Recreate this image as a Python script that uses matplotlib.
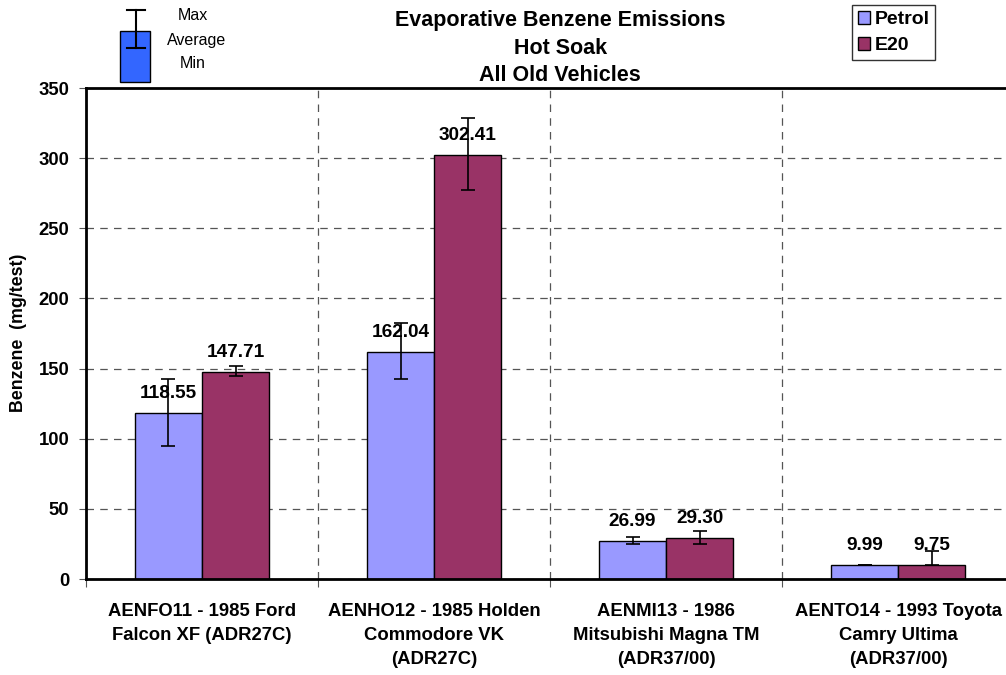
import numpy as np
import matplotlib.pyplot as plt
from matplotlib.patches import Rectangle

plt.rcParams['font.family'] = ['Liberation Sans', 'DejaVu Sans']

# data
vehicles = ['AENFO11 - 1985 Ford\nFalcon XF (ADR27C)',
            'AENHO12 - 1985 Holden\nCommodore VK\n(ADR27C)',
            'AENMI13 - 1986\nMitsubishi Magna TM\n(ADR37/00)',
            'AENTO14 - 1993 Toyota\nCamry Ultima\n(ADR37/00)']
petrol_avg = [118.55, 162.04, 26.99, 9.99]
petrol_max = [142.5, 182.5, 29.9, 10.2]
petrol_min = [94.8, 142.5, 24.9, 9.8]
e20_avg = [147.71, 302.41, 29.30, 9.75]
e20_max = [151.8, 328.6, 34.2, 20.0]
e20_min = [144.7, 277.3, 24.9, 9.75]

petrol_color = '#9999FF'
e20_color = '#993366'

fig = plt.figure(figsize=(10.06, 6.75), dpi=100)
ax = fig.add_axes([0.0855, 0.1422, 0.9225, 0.7274])

x = np.arange(len(vehicles))
w = 0.289
xp = x - w / 2
xe = x + w / 2

ax.bar(xp, petrol_avg, w, color=petrol_color, edgecolor='black', linewidth=1, label='Petrol', zorder=3)
ax.bar(xe, e20_avg, w, color=e20_color, edgecolor='black', linewidth=1, label='E20', zorder=3)

pa = np.array(petrol_avg)
ea = np.array(e20_avg)
ax.errorbar(xp, pa, yerr=[pa - np.array(petrol_min), np.array(petrol_max) - pa],
            fmt='none', ecolor='black', elinewidth=1.2, capsize=5, capthick=1.2, zorder=4)
ax.errorbar(xe, ea, yerr=[ea - np.array(e20_min), np.array(e20_max) - ea],
            fmt='none', ecolor='black', elinewidth=1.2, capsize=5, capthick=1.2, zorder=4)

for xs, vals in ((xp, petrol_avg), (xe, e20_avg)):
    for xi, v in zip(xs, vals):
        ax.annotate('%.2f' % v, (xi, v), xytext=(0, 14), textcoords='offset points',
                    ha='center', va='center', fontsize=13.7, fontweight='bold', zorder=5)

ax.set_xlim(-0.5, 3.5)
ax.set_ylim(0, 350)
ax.set_yticks(np.arange(0, 351, 50))
ax.set_xticks(np.arange(-0.5, 3.6, 1))
ax.set_xticklabels([])
ax.set_xticks(x, minor=True)
ax.set_xticklabels(vehicles, minor=True, fontsize=13.3, fontweight='bold', linespacing=1.55, va='top')
ax.tick_params(axis='x', which='minor', length=0, pad=17)
ax.tick_params(axis='x', which='major', length=6, color='#555555')
ax.tick_params(axis='y', length=5, labelsize=13.3, color='#555555', pad=7)
for lbl in ax.get_yticklabels():
    lbl.set_fontweight('bold')

ax.grid(True, which='major', linestyle=(0, (6, 5)), color='#555555', linewidth=0.9, zorder=0)
for s in ('left', 'bottom', 'top'):
    ax.spines[s].set_linewidth(2)
    ax.spines[s].set_zorder(6)
ax.spines['right'].set_visible(False)

ax.set_ylabel('Benzene  (mg/test)', fontsize=12.8, fontweight='bold')
ax.yaxis.label.set_va('center')
ax.yaxis.set_label_coords(19 / 1006, 1 - 333 / 675, transform=fig.transFigure)

fig.text(0.557, 0.985, 'Evaporative Benzene Emissions\nHot Soak\nAll Old Vehicles',
         ha='center', va='top', fontsize=15.5, fontweight='bold', linespacing=1.4)

leg = ax.legend(loc='upper left', bbox_to_anchor=(852 / 1006, 1 - 5 / 675),
                bbox_transform=fig.transFigure,
                prop={'weight': 'bold', 'size': 14}, frameon=True, fancybox=False,
                edgecolor='black', handlelength=0.65, handleheight=0.65, handletextpad=0.2,
                borderpad=0.3, labelspacing=0.45, borderaxespad=0)
leg.get_frame().set_linewidth(1)

# max / average / min key
fig.patches.append(Rectangle((120 / 1006, 1 - 82 / 675), 30 / 1006, 51 / 675,
                             transform=fig.transFigure, facecolor='#3366FF',
                             edgecolor='black', linewidth=1, zorder=10))
fig.lines.append(plt.Line2D([136 / 1006, 136 / 1006], [1 - 10 / 675, 1 - 48 / 675],
                            transform=fig.transFigure, color='black', lw=1.5, zorder=11))
for yy in (10, 48):
    fig.lines.append(plt.Line2D([127 / 1006, 145 / 1006], [1 - yy / 675, 1 - yy / 675],
                                transform=fig.transFigure, color='black', lw=1.5, zorder=11))
fig.text(193 / 1006, 1 - 15 / 675, 'Max', ha='center', va='center', fontsize=11.5)
fig.text(197 / 1006, 1 - 41 / 675, 'Average', ha='center', va='center', fontsize=11.5)
fig.text(193 / 1006, 1 - 63 / 675, 'Min', ha='center', va='center', fontsize=11.5)

fig.savefig('out.png', dpi=100)
